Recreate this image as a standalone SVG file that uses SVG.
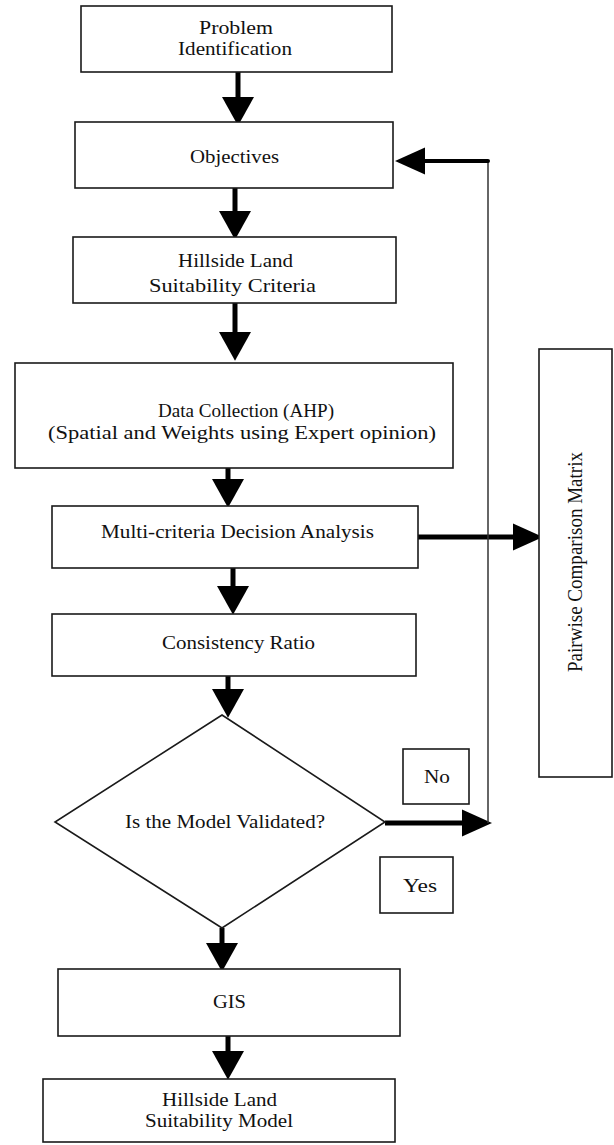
<svg xmlns="http://www.w3.org/2000/svg" width="614" height="1145" viewBox="0 0 614 1145">
<style>
.box{fill:#fff;stroke:#1a1a1a;stroke-width:1.6}
.t{font-family:"Liberation Serif","Times New Roman",serif;font-size:19px;fill:#111;text-anchor:middle}
.shaft{stroke:#000;stroke-width:5;fill:none}
.thin{stroke:#333;stroke-width:1.5;fill:none}
</style>
<defs>
<marker id="ah" markerUnits="userSpaceOnUse" markerWidth="30" markerHeight="32" refX="0" refY="15" orient="auto" viewBox="0 0 27 30">
<path d="M0,0 L27,15 L0,30 Z" fill="#000"/>
</marker>
<marker id="ahs" markerUnits="userSpaceOnUse" markerWidth="30" markerHeight="28" refX="0" refY="13" orient="auto" viewBox="0 0 29 26">
<path d="M0,0 L29,13 L0,26 Z" fill="#000"/>
</marker>
</defs>
<rect width="614" height="1145" fill="#fff"/>

<g id="connectors">
<line class="shaft" x1="238" y1="72" x2="238" y2="97" marker-end="url(#ah)"/>
<line class="shaft" x1="235" y1="188" x2="235" y2="211" marker-end="url(#ah)"/>
<line class="shaft" x1="235" y1="303" x2="235" y2="332" marker-end="url(#ah)"/>
<line class="shaft" x1="228" y1="468" x2="228" y2="479" marker-end="url(#ah)"/>
<line class="shaft" x1="233" y1="568" x2="233" y2="586" marker-end="url(#ah)"/>
<line class="shaft" x1="228" y1="676" x2="228" y2="689" marker-end="url(#ah)"/>
<line class="shaft" x1="222" y1="928" x2="222" y2="943" marker-end="url(#ah)"/>
<line class="shaft" x1="228" y1="1036" x2="228" y2="1051" marker-end="url(#ah)"/>
<line class="shaft" x1="418" y1="537" x2="513" y2="537" marker-end="url(#ahs)"/>
<line class="shaft" x1="385" y1="823" x2="462" y2="823" marker-end="url(#ahs)"/>
<line class="thin" x1="488" y1="823" x2="488" y2="160"/>
<line stroke="#000" stroke-width="4" stroke-linecap="round" x1="488" y1="161" x2="425" y2="161" marker-end="url(#ahs)"/>
</g>

<g id="n1">
<rect class="box" x="81" y="6" width="311" height="66"/>
<text class="t" x="236" y="34" textLength="74" lengthAdjust="spacingAndGlyphs">Problem</text>
<text class="t" x="235" y="55" textLength="114" lengthAdjust="spacingAndGlyphs">Identification</text>
</g>
<g id="n2">
<rect class="box" x="75" y="122" width="318" height="66"/>
<text class="t" x="234.5" y="163" textLength="89" lengthAdjust="spacingAndGlyphs">Objectives</text>
</g>
<g id="n3">
<rect class="box" x="73" y="237" width="323" height="66"/>
<text class="t" x="235.5" y="267" textLength="115" lengthAdjust="spacingAndGlyphs">Hillside Land</text>
<text class="t" x="232.5" y="292" textLength="167" lengthAdjust="spacingAndGlyphs">Suitability Criteria</text>
</g>
<g id="n4">
<rect class="box" x="15" y="363" width="438" height="105"/>
<text class="t" x="246" y="417" textLength="176" lengthAdjust="spacingAndGlyphs">Data Collection (AHP)</text>
<text class="t" x="242" y="439" textLength="388" lengthAdjust="spacingAndGlyphs">(Spatial and Weights using  Expert opinion)</text>
</g>
<g id="n5">
<rect class="box" x="52" y="506" width="366" height="62"/>
<text class="t" x="237.5" y="538" textLength="273" lengthAdjust="spacingAndGlyphs">Multi-criteria Decision Analysis</text>
</g>
<g id="n6">
<rect class="box" x="52" y="614" width="364" height="62"/>
<text class="t" x="238.5" y="649" textLength="153" lengthAdjust="spacingAndGlyphs">Consistency Ratio</text>
</g>
<g id="n7">
<polygon class="box" points="222,715 385,822 222,928 55,822"/>
<text class="t" x="225" y="828" textLength="200" lengthAdjust="spacingAndGlyphs">Is the Model Validated?</text>
</g>
<g id="n8">
<rect class="box" x="58" y="969" width="342" height="67"/>
<text class="t" x="229.5" y="1008" textLength="33" lengthAdjust="spacingAndGlyphs">GIS</text>
</g>
<g id="n9">
<rect class="box" x="43" y="1079" width="352" height="63"/>
<text class="t" x="219.5" y="1106" textLength="115" lengthAdjust="spacingAndGlyphs">Hillside Land</text>
<text class="t" x="219" y="1127" textLength="148" lengthAdjust="spacingAndGlyphs">Suitability Model</text>
</g>
<g id="n10">
<rect class="box" x="539" y="349" width="73" height="428"/>
<text class="t" transform="translate(582,562) scale(1.13,1) rotate(-90)" x="0" y="0" textLength="220" lengthAdjust="spacingAndGlyphs">Pairwise Comparison Matrix</text>
</g>
<g id="lblNo">
<rect class="box" x="403" y="749" width="66" height="55"/>
<text class="t" x="437" y="783" textLength="26" lengthAdjust="spacingAndGlyphs">No</text>
</g>
<g id="lblYes">
<rect class="box" x="380" y="857" width="73" height="56"/>
<text class="t" x="420" y="892" textLength="34" lengthAdjust="spacingAndGlyphs">Yes</text>
</g>
</svg>
